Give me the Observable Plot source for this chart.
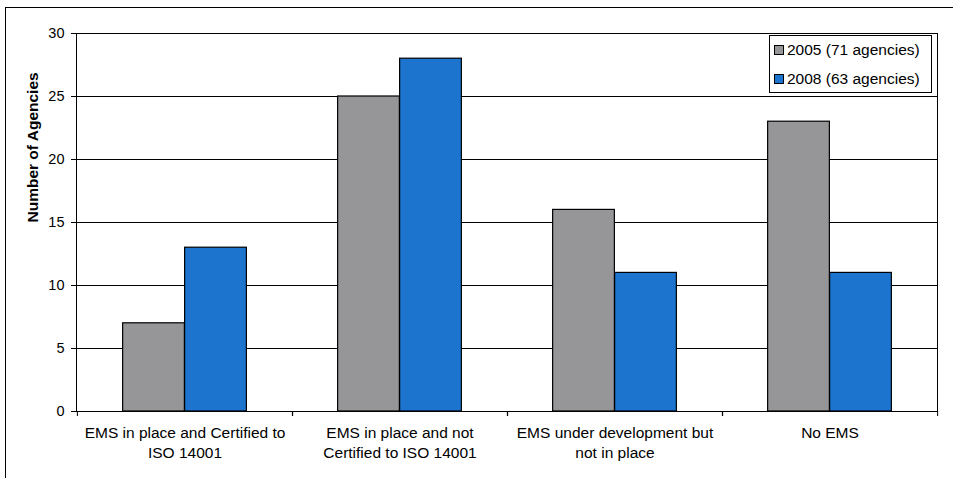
<!DOCTYPE html>
<html>
<head>
<meta charset="utf-8">
<script src="https://cdn.jsdelivr.net/npm/d3@7"></script>
<script src="https://cdn.jsdelivr.net/npm/@observablehq/plot@0.6"></script>
<style>
  html, body { margin: 0; padding: 0; background: #fff; overflow: hidden; }
  body { width: 953px; height: 478px; position: relative; font-family: "Liberation Sans", Arial, sans-serif; }
  #border { position: absolute; left: 5px; top: 7px; width: 970px; height: 500px; border: 1.5px solid #000; box-sizing: border-box; }
  #chart { position: absolute; left: 0; top: 0; }
  #legend { position: absolute; left: 769px; top: 35px; width: 163px; height: 58px; border: 1px solid #000; box-sizing: border-box; background: #fff; font-size: 15.5px; color: #000; }
  .item { position: absolute; left: 4px; display: flex; align-items: center; white-space: nowrap; }
  .sw { width: 8px; height: 8px; border: 1px solid #000; margin-right: 3px; }
</style>
</head>
<body>
<div id="border"></div>
<div id="chart"></div>
<div id="legend"></div>
<script>
const categories = [
  "EMS in place and Certified to\nISO 14001",
  "EMS in place and not\nCertified to ISO 14001",
  "EMS under development but\nnot in place",
  "No EMS"
];
const series = ["2005 (71 agencies)", "2008 (63 agencies)"];
const values2005 = [7, 25, 16, 23];
const values2008 = [13, 28, 11, 11];
const colors = ["#969699", "#1c74cf"];
const yTicks = [0, 5, 10, 15, 20, 25, 30];

const data2005 = categories.map((c, i) => ({cat: c, series: series[0], value: values2005[i]}));
const data2008 = categories.map((c, i) => ({cat: c, series: series[1], value: values2008[i]}));

const W = 953, H = 478;
const mL = 76, mR = 16, mT = 33, mB = 67;
const band = (W - mL - mR) / categories.length;
const barW = band * 0.288;
const outer = (band - 2 * barW) / 2;

const chart = Plot.plot({
  width: W,
  height: H,
  marginLeft: mL,
  marginRight: mR,
  marginTop: mT,
  marginBottom: mB,
  style: {fontFamily: "Liberation Sans, Arial, sans-serif", fontSize: "14px", background: "transparent", color: "#000"},
  x: {type: "band", domain: categories, padding: 0},
  y: {domain: [0, 30]},
  color: {domain: series, range: colors},
  marks: [
    Plot.gridY(yTicks, {stroke: "#000", strokeOpacity: 1, strokeWidth: 1}),
    Plot.barY(data2005, {x: "cat", y: "value", fill: "series", stroke: "#000", strokeWidth: 1.2,
      insetLeft: outer, insetRight: band - outer - barW}),
    Plot.barY(data2008, {x: "cat", y: "value", fill: "series", stroke: "#000", strokeWidth: 1.2,
      insetLeft: outer + barW, insetRight: outer}),
    Plot.frame({stroke: "#000", strokeWidth: 1}),
    Plot.axisY(yTicks, {tickSize: 5, tickPadding: 7, fontSize: 14.5, label: null, stroke: "#000"}),
    Plot.text(["Number of Agencies"], {frameAnchor: "left", rotate: -90, dx: -43, fontSize: 15.5, fontWeight: "bold", fill: "#000"}),
    Plot.axisX({tickSize: 0, tickPadding: 13, fontSize: 15.5, lineHeight: 1.25, label: null}),
    Plot.axisX({tickSize: 5, text: null, label: null, dx: -band / 2, stroke: "#000"}),
    Plot.axisX({tickSize: 5, text: null, label: null, dx: band / 2, stroke: "#000"})
  ]
});
document.getElementById("chart").appendChild(chart);

const legend = document.getElementById("legend");
series.forEach((s, i) => {
  const it = document.createElement("div");
  it.className = "item";
  it.style.top = (i === 0 ? 5 : 34) + "px";
  const sw = document.createElement("div");
  sw.className = "sw";
  sw.style.background = colors[i];
  const t = document.createElement("span");
  t.textContent = s;
  it.appendChild(sw);
  it.appendChild(t);
  legend.appendChild(it);
});
</script>
</body>
</html>
